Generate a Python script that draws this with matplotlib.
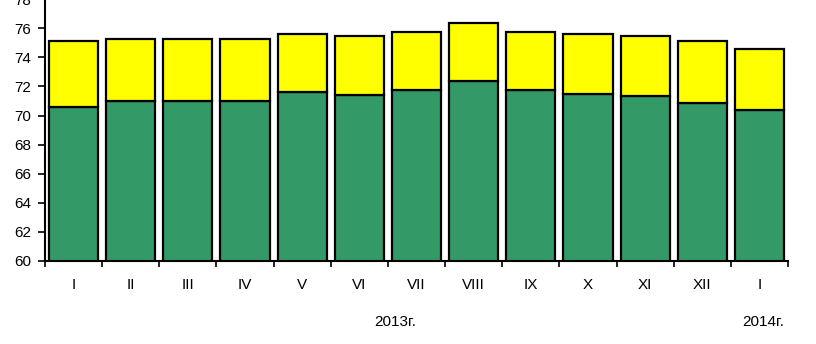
import matplotlib.pyplot as plt
import matplotlib.transforms as mtransforms

# Monthly values
months = ["I", "II", "III", "IV", "V", "VI", "VII", "VIII", "IX", "X", "XI", "XII", "I"]
green_vals = [70.6, 71.0, 71.0, 71.0, 71.6, 71.4, 71.75, 72.4, 71.75, 71.5, 71.35, 70.85, 70.35]
total_vals = [75.1, 75.25, 75.25, 75.25, 75.6, 75.5, 75.75, 76.35, 75.75, 75.6, 75.5, 75.1, 74.6]
yellow_vals = [t - g for t, g in zip(total_vals, green_vals)]
years = ["2013г.", "2014г."]

plt.rcParams['font.family'] = ['Liberation Sans', 'DejaVu Sans']

fig = plt.figure(figsize=(8.16, 3.44), dpi=100)
ax = fig.add_axes([0.0551, 0.2413, 0.9106, 0.761])

x = list(range(len(months)))
ax.bar(x, green_vals, width=0.86, color="#339966", edgecolor="black", linewidth=1.6)
ax.bar(x, yellow_vals, width=0.86, bottom=green_vals, color="#FFFF00",
       edgecolor="black", linewidth=1.6)

ax.set_xlim(-0.5, len(months) - 0.5)
ax.set_ylim(60, 78)
ax.set_yticks(range(60, 79, 2))
ax.tick_params(axis="y", direction="out", length=5, width=1.2, pad=5, labelsize=11)

# category labels between boundary ticks
ax.set_xticks([i - 0.5 for i in range(len(months) + 1)])
ax.set_xticklabels([])
ax.set_xticks(x, minor=True)
ax.set_xticklabels(months, minor=True, fontsize=11)
ax.tick_params(axis="x", which="major", direction="out", length=4, width=1.2)
ax.tick_params(axis="x", which="minor", length=0, pad=12)

for side in ("top", "right"):
    ax.spines[side].set_visible(False)
ax.spines["left"].set_linewidth(1.5)
ax.spines["bottom"].set_linewidth(1.5)

trans = mtransforms.blended_transform_factory(ax.transData, fig.transFigure)
ax.text(5.62, 1 - 322 / 344, years[0], transform=trans, ha="center", va="center", fontsize=11)
ax.text(12.07, 1 - 322 / 344, years[1], transform=trans, ha="center", va="center", fontsize=11)

fig.savefig("out.png", dpi=100)
